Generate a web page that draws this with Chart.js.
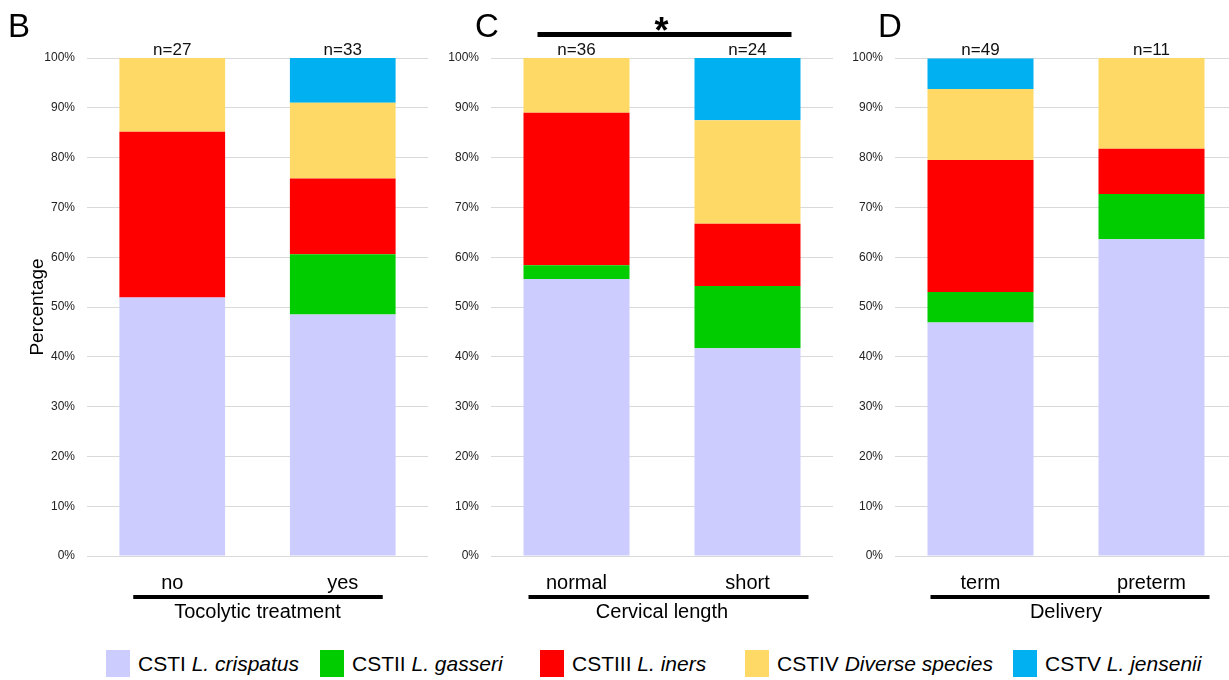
<!DOCTYPE html>
<html>
<head>
<meta charset="utf-8">
<script src="https://cdn.jsdelivr.net/npm/chart.js@4/dist/chart.umd.min.js"></script>
<style>
  html, body { margin: 0; padding: 0; background: #fff; }
  body { width: 1229px; height: 680px; overflow: hidden; position: relative; font-family: "Liberation Sans", Arial, sans-serif; }
  .panel { position: absolute; top: 0; height: 630px; }
  #legend { position: absolute; top: 650px; left: 0; width: 1229px; height: 28px; font-size: 21px; color: #000; white-space: nowrap; }
  .item { position: absolute; top: 0; display: flex; align-items: center; height: 27px; }
  .swatch { width: 24px; height: 27px; margin-right: 8px; }
</style>
</head>
<body>
<div class="panel" id="pB" style="left:0;width:430px"><canvas id="cB"></canvas></div>
<div class="panel" id="pC" style="left:430px;width:404px"><canvas id="cC"></canvas></div>
<div class="panel" id="pD" style="left:834px;width:404px"><canvas id="cD"></canvas></div>
<div id="legend"></div>
<script>
// Community state types by group (percent of women in each group)
const panelLetters = ['B', 'C', 'D'];
const groupTitles = ['Tocolytic treatment', 'Cervical length', 'Delivery'];
const categories = ['no', 'yes', 'normal', 'short', 'term', 'preterm'];
const sampleSizes = [27, 33, 36, 24, 49, 11];

const seriesCodes = ['CSTI', 'CSTII', 'CSTIII', 'CSTIV', 'CSTV'];
const seriesSpecies = ['L. crispatus', 'L. gasseri', 'L. iners', 'Diverse species', 'L. jensenii'];

const cstI   = [51.9, 48.5, 55.6, 41.7, 46.9, 63.6];
const cstII  = [0.0, 12.1, 2.8, 12.5, 6.1, 9.1];
const cstIII = [33.3, 15.2, 30.6, 12.5, 26.5, 9.1];
const cstIV  = [14.8, 15.2, 11.1, 20.8, 14.3, 18.2];
const cstV   = [0.0, 9.0, 0.0, 12.5, 6.1, 0.0];

const seriesValues = [cstI, cstII, cstIII, cstIV, cstV];
const seriesColors = ['#CCCCFF', '#00CC00', '#FF0000', '#FFD966', '#00B0F0'];

const FONT = '"Liberation Sans", Arial, sans-serif';

// per-panel layout
const panels = [
  { canvas: 'cB', yWidth: 87, padRight: 2, letterX: 8, line: [-39, 40], sig: false, yTitle: true },
  { canvas: 'cC', yWidth: 61, padRight: 1, letterX: 45, line: [-48, 61], sig: true, yTitle: false },
  { canvas: 'cD', yWidth: 61, padRight: 1, letterX: 44, line: [-50, 58], sig: false, yTitle: false }
];
// legend item left edges
const legendLeft = [106, 320, 540, 745, 1013];

panels.forEach((p, pi) => {
  const from = pi * 2, to = from + 2;
  const labels = categories.slice(from, to);
  const counts = sampleSizes.slice(from, to);

  const decorations = {
    id: 'decorations' + pi,
    afterDraw(chart) {
      const ctx = chart.ctx;
      const xs = chart.scales.x;
      const area = chart.chartArea;
      const c0 = xs.getPixelForValue(0);
      const c1 = xs.getPixelForValue(1);
      ctx.save();

      // panel letter
      ctx.fillStyle = '#000';
      ctx.font = '33px ' + FONT;
      ctx.textAlign = 'left';
      ctx.textBaseline = 'alphabetic';
      ctx.fillText(panelLetters[pi], p.letterX, 37);

      // sample sizes above each bar
      ctx.font = '17px ' + FONT;
      ctx.fillStyle = '#111';
      ctx.textAlign = 'center';
      counts.forEach((n, i) => {
        ctx.fillText('n=' + n, xs.getPixelForValue(i), area.top - 3);
      });

      // bracket line between category labels and group title
      ctx.strokeStyle = '#000';
      ctx.lineWidth = 4;
      ctx.beginPath();
      ctx.moveTo(c0 + p.line[0], 597);
      ctx.lineTo(c1 + p.line[1], 597);
      ctx.stroke();

      // significance marker
      if (p.sig) {
        ctx.font = 'bold 36px ' + FONT;
        ctx.fillStyle = '#000';
        ctx.textAlign = 'center';
        ctx.fillText('*', (c0 + c1) / 2 - 0.5, 43);
        ctx.lineWidth = 5;
        ctx.beginPath();
        ctx.moveTo(c0 - 39, 34.5);
        ctx.lineTo(c1 + 44, 34.5);
        ctx.stroke();
      }
      ctx.restore();
    }
  };

  new Chart(document.getElementById(p.canvas), {
    type: 'bar',
    data: {
      labels: labels,
      datasets: seriesCodes.map((code, si) => ({
        label: code + ' ' + seriesSpecies[si],
        data: seriesValues[si].slice(from, to),
        backgroundColor: seriesColors[si],
        borderWidth: 0,
        barPercentage: 0.62,
        categoryPercentage: 1.0
      }))
    },
    options: {
      responsive: true,
      maintainAspectRatio: false,
      animation: false,
      events: [],
      layout: { padding: { top: 58, right: p.padRight, left: 0, bottom: 0 } },
      plugins: { legend: { display: false }, tooltip: { enabled: false } },
      scales: {
        x: {
          stacked: true,
          grid: { display: false, drawTicks: false },
          border: { display: false },
          ticks: { color: '#000', font: { family: FONT, size: 20 }, padding: 15 },
          title: { display: true, text: groupTitles[pi], color: '#000', font: { family: FONT, size: 20 }, padding: { top: 0, bottom: 6 } },
          afterFit: s => { s.height = 74; }
        },
        y: {
          stacked: true,
          min: 0,
          max: 100,
          ticks: { stepSize: 10, callback: v => v + '%', color: '#222', font: { family: FONT, size: 12 }, padding: 12 },
          grid: { color: '#d9d9d9', drawTicks: false },
          border: { display: false },
          title: { display: p.yTitle, text: 'Percentage', color: '#000', font: { family: FONT, size: 19 }, padding: { top: 26 } },
          afterFit: s => { s.width = p.yWidth; }
        }
      }
    },
    plugins: [decorations]
  });
});

// shared legend
const legend = document.getElementById('legend');
seriesCodes.forEach((code, si) => {
  const item = document.createElement('div');
  item.className = 'item';
  item.style.left = legendLeft[si] + 'px';
  const sw = document.createElement('div');
  sw.className = 'swatch';
  sw.style.background = seriesColors[si];
  const txt = document.createElement('span');
  txt.textContent = code + ' ';
  const it = document.createElement('i');
  it.textContent = seriesSpecies[si];
  txt.appendChild(it);
  item.appendChild(sw);
  item.appendChild(txt);
  legend.appendChild(item);
});
</script>
</body>
</html>
